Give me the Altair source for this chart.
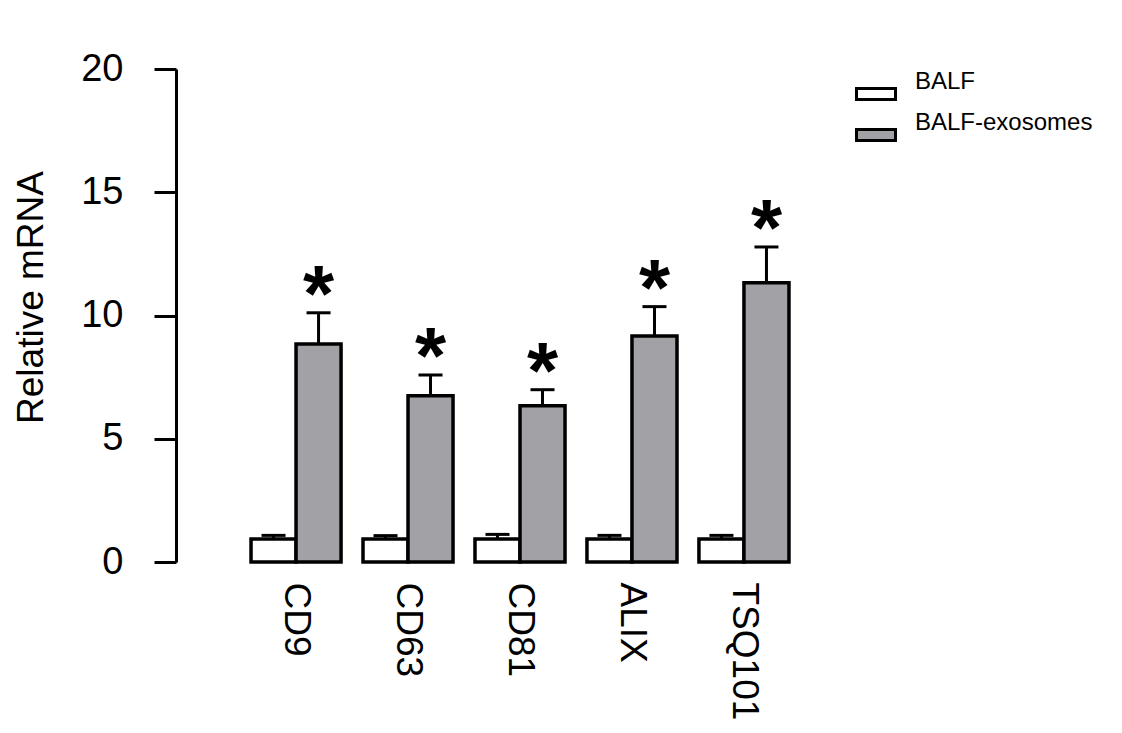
import altair as alt
import pandas as pd

genes = ["CD9", "CD63", "CD81", "ALIX", "TSQ101"]
groups = ["BALF", "BALF-exosomes"]
balf_mean = [0.93, 0.93, 0.93, 0.93, 0.93]
balf_err = [0.15, 0.14, 0.19, 0.15, 0.15]
exo_mean = [8.84, 6.74, 6.34, 9.17, 11.33]
exo_err = [1.27, 0.85, 0.65, 1.19, 1.45]
y_ticks = [0, 5, 10, 15, 20]

rows = []
for i, g in enumerate(genes):
    rows.append({"gene": g, "group": groups[0], "mean": balf_mean[i],
                 "top": balf_mean[i] + balf_err[i], "star": ""})
    rows.append({"gene": g, "group": groups[1], "mean": exo_mean[i],
                 "top": exo_mean[i] + exo_err[i], "star": "*"})
df = pd.DataFrame(rows)

FONT = "Liberation Sans"

x_enc = alt.X("gene:N", sort=genes,
              scale=alt.Scale(paddingInner=0.196, paddingOuter=0.67),
              axis=alt.Axis(title=None, domain=False, ticks=False, labelAngle=90,
                            labelAlign="left", labelBaseline="middle",
                            labelFontSize=37, labelFont=FONT, labelColor="black",
                            labelPadding=20))
xo_enc = alt.XOffset("group:N", sort=groups,
                     scale=alt.Scale(paddingInner=0, paddingOuter=0))

base = alt.Chart(df)

bars = base.mark_bar(stroke="black", strokeWidth=3.5).encode(
    x=x_enc,
    xOffset=xo_enc,
    y=alt.Y("mean:Q", scale=alt.Scale(domain=[0, 20], nice=False),
            axis=alt.Axis(values=y_ticks, title="Relative mRNA", grid=False,
                          domainColor="black", domainWidth=3, tickColor="black",
                          tickWidth=3, tickSize=22, labelFontSize=38, labelFont=FONT,
                          labelColor="black", labelPadding=31, titleFontSize=37,
                          titleFont=FONT, titleFontWeight="normal", titleColor="black",
                          titleX=-134, titleY=228, titleAngle=270,
                          titleBaseline="alphabetic", titleAlign="center")),
    fill=alt.Fill("group:N", sort=groups,
                  scale=alt.Scale(domain=groups, range=["white", "#a2a1a6"]),
                  legend=alt.Legend(title=None, orient="none", legendX=679, legendY=4,
                                    padding=0, symbolType="M-1,-0.28L1,-0.28L1,0.28L-1,0.28Z",
                                    symbolSize=1521, symbolStrokeColor="black",
                                    symbolStrokeWidth=3, labelFontSize=24, labelFont=FONT,
                                    labelColor="black", labelOffset=18, rowPadding=5,
                                    labelLimit=400, labelBaseline="bottom")),
)

err = base.mark_rule(color="black", strokeWidth=3).encode(
    x=alt.X("gene:N", sort=genes), xOffset=xo_enc, y="mean:Q", y2="top:Q")

caps = base.mark_tick(color="black", thickness=3, size=24, opacity=1).encode(
    x=alt.X("gene:N", sort=genes), xOffset=xo_enc, y="top:Q")

stars = base.mark_text(fontSize=80, font=FONT, fontWeight="bold", color="black",
                       baseline="alphabetic", dy=8).encode(
    x=alt.X("gene:N", sort=genes), xOffset=xo_enc, y="top:Q", text="star:N")

chart = alt.layer(err, bars, caps, stars).properties(
    width=688, height=493,
    autosize=alt.AutoSizeParams(type="none"),
    padding={"left": 168, "top": 61, "right": 250, "bottom": 164},
    background="white",
).configure_view(stroke=None)

chart.save("out.html", embed_options={"renderer": "svg", "actions": False})
